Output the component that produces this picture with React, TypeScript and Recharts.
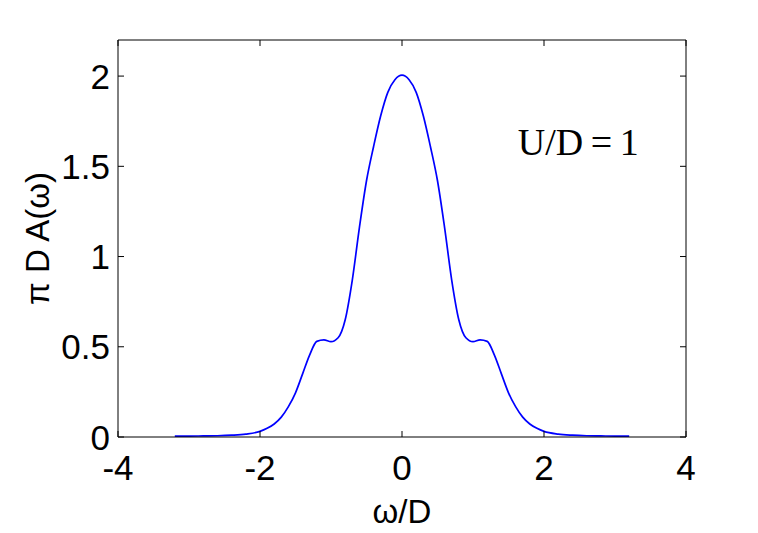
import React from 'react';
import { LineChart, Line, XAxis, YAxis, ReferenceDot } from 'recharts';

// omega/D sample points and pi*D*A(omega) (symmetric curve)
const omegaHalf = [0, 0.1, 0.2, 0.3, 0.4, 0.5, 0.6, 0.7, 0.8, 0.9, 1.0, 1.1, 1.2, 1.3, 1.4, 1.5, 1.6, 1.7, 1.8, 1.9, 2.0, 2.2, 2.4, 2.6, 2.8, 3.0, 3.2];
const spectralHalf = [2.005, 1.98, 1.91, 1.78, 1.61, 1.42, 1.16, 0.87, 0.65, 0.55, 0.528, 0.538, 0.53, 0.455, 0.35, 0.245, 0.168, 0.11, 0.072, 0.048, 0.031, 0.016, 0.01, 0.007, 0.006, 0.005, 0.005];

const xTicks = [-4, -2, 0, 2, 4];
const yTicks = [0, 0.5, 1, 1.5, 2];

const data = [
  ...omegaHalf.slice(1).map((w, i) => ({ w: -w, a: spectralHalf[i + 1] })).reverse(),
  ...omegaHalf.map((w, i) => ({ w, a: spectralHalf[i] })),
];

const W = 758;
const H = 533;
const margin = { top: 40, right: 72, left: 0, bottom: 0 };
const plotTop = margin.top;
const plotRight = W - margin.right;
const TL = 6; // tick length

const sans = 'Liberation Sans, Arial, sans-serif';

// matlab style: tick marks point into the box on all four sides, labels outside
const LeftTick = ({ x, y, payload }: any) => (
  <g>
    <line x1={x} x2={x + TL} y1={y} y2={y} stroke="#000" strokeWidth={1} />
    <line x1={plotRight - TL} x2={plotRight} y1={y} y2={y} stroke="#000" strokeWidth={1} />
    <text x={x - 8} y={y} dy="0.36em" textAnchor="end" fontSize={35} fontFamily={sans} fill="#000">
      {payload.value}
    </text>
  </g>
);

const BottomTick = ({ x, y, payload }: any) => (
  <g>
    <line x1={x} x2={x} y1={y} y2={y - TL} stroke="#000" strokeWidth={1} />
    <line x1={x} x2={x} y1={plotTop} y2={plotTop + TL} stroke="#000" strokeWidth={1} />
    <text x={x} y={y + 43} textAnchor="middle" fontSize={35} fontFamily={sans} fill="#000">
      {payload.value}
    </text>
  </g>
);

export default function App() {
  return (
    <div style={{ position: 'absolute', left: 0, top: 0, background: '#fff' }}>
      <LineChart width={W} height={H} data={data} margin={margin}>
        <XAxis
          xAxisId="bottom"
          dataKey="w"
          type="number"
          domain={[-4, 4]}
          ticks={xTicks}
          height={96}
          stroke="#000"
          tickLine={false}
          tickSize={0}
          tickMargin={0}
          tick={<BottomTick />}
          label={{ value: 'ω/D', position: 'center', dy: 26, fill: '#000', fontSize: 33, fontFamily: sans }}
        />
        <XAxis
          xAxisId="top"
          orientation="top"
          mirror
          dataKey="w"
          type="number"
          domain={[-4, 4]}
          ticks={xTicks}
          height={1}
          stroke="#000"
          tickLine={false}
          tick={false}
        />
        <YAxis
          yAxisId="left"
          type="number"
          domain={[0, 2.2]}
          ticks={yTicks}
          width={118}
          stroke="#000"
          tickLine={false}
          tickSize={0}
          tickMargin={0}
          tick={<LeftTick />}
          label={{ value: 'π D A(ω)', angle: -90, position: 'center', dx: -22, fill: '#000', fontSize: 33, fontFamily: sans }}
        />
        <YAxis
          yAxisId="right"
          orientation="right"
          mirror
          type="number"
          domain={[0, 2.2]}
          ticks={yTicks}
          width={1}
          stroke="#000"
          tickLine={false}
          tick={false}
        />
        <ReferenceDot
          xAxisId="bottom"
          yAxisId="left"
          x={1.63}
          y={1.635}
          r={0}
          stroke="none"
          fill="none"
          label={{ value: 'U/D\u2009=\u20091', position: 'right', offset: 0, fill: '#000', fontSize: 38, fontFamily: 'Liberation Serif, Times New Roman, serif' }}
        />
        <Line
          xAxisId="bottom"
          yAxisId="left"
          dataKey="a"
          type="monotone"
          stroke="#0000ff"
          strokeWidth={1.7}
          dot={false}
          isAnimationActive={false}
        />
      </LineChart>
    </div>
  );
}
